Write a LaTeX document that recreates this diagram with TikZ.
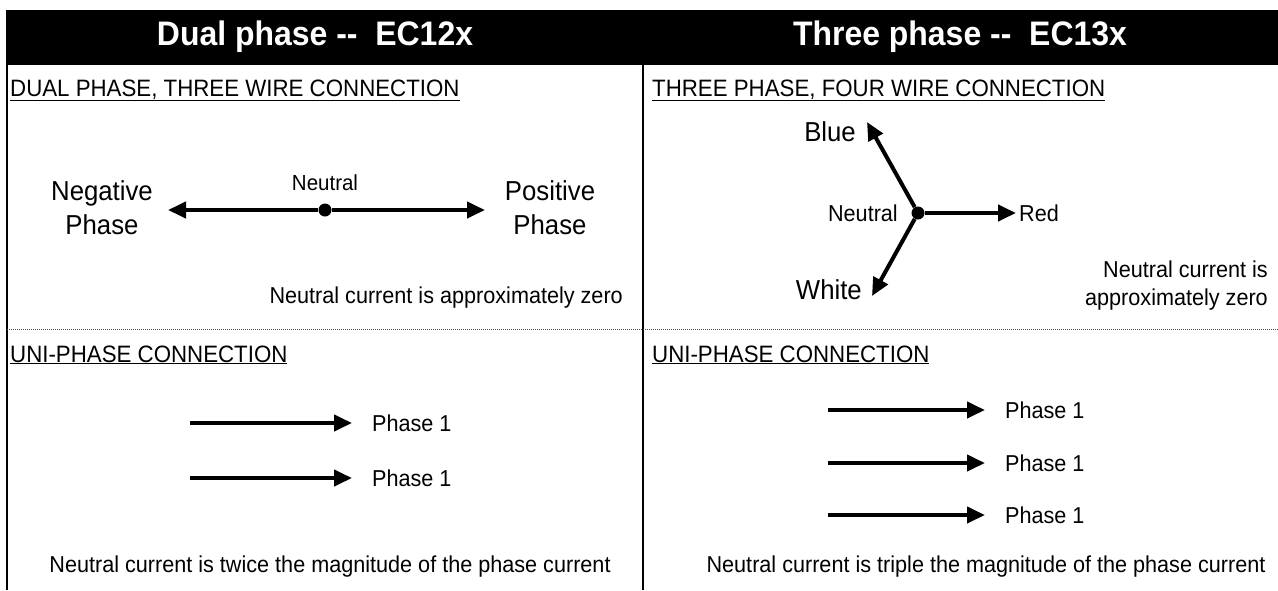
\documentclass[tikz,border=0pt]{standalone}
\usepackage{fontspec}
\setmainfont{Liberation Sans}[FakeStretch=0.94]
\usetikzlibrary{arrows.meta}
\usetikzlibrary{positioning}

\tikzset{
  phasearrow/.style={line width=4pt, -{Triangle[length=18pt,width=16pt]}},
  bodytext/.style={font=\fontsize{23}{28}\selectfont, inner sep=0pt},
  bigtext/.style={font=\fontsize{27.4}{34}\selectfont, inner sep=0pt},
  headtext/.style={font=\fontsize{23.7}{26}\selectfont, inner sep=0pt, anchor=base west},
  smalltext/.style={font=\fontsize{21.8}{24}\selectfont, inner sep=0pt},
  titletext/.style={font=\fontsize{34}{38}\selectfont\bfseries, text=white},
  neutraldot/.style={circle, fill, inner sep=0pt, minimum size=13pt},
}

\begin{document}
\begin{tikzpicture}[x=1pt,y=-1pt]
  \useasboundingbox (0,0) rectangle (1278,590);

  % title bar and frame
  \fill (7,10) rectangle (1278,65);
  \node [titletext] (dualtitle) at (315,37) {Dual phase {-}{-}\ \ EC12x};
  \node [titletext] (threetitle) at (960,37) {Three phase {-}{-}\ \ EC13x};
  \draw [line width=2.5pt] (7,10) -- (7,590);
  \draw [line width=2.5pt] (643,65) -- (643,590);
  \draw [black!70, line width=0.8pt, dash pattern=on 1.2pt off 0.8pt] (7,329) -- (1278,329);

  % dual phase, three wire
  \node [headtext] (dualhead) at (10,96) {\underline{DUAL PHASE, THREE WIRE CONNECTION}};
  \node [neutraldot] (dualn) at (325,210) {};
  \node [smalltext, above=12pt of dualn] (dualnlbl) {Neutral};
  \coordinate (negtip) at (168,210);
  \coordinate (postip) at (485,210);
  \draw [phasearrow] (dualn) -- (negtip);
  \draw [phasearrow] (dualn) -- (postip);
  \node [bigtext, align=center] (negphase) at (102,208) {Negative\\Phase};
  \node [bigtext, align=center] (posphase) at (550,208) {Positive\\Phase};
  \node [bodytext, anchor=east] (dualzero) at (623,298) {Neutral current is approximately zero};

  % three phase, four wire
  \node [headtext] (threehead) at (652,96) {\underline{THREE PHASE, FOUR WIRE CONNECTION}};
  \node [neutraldot] (star) at (918,213) {};
  \coordinate (bluetip) at (867,122);
  \coordinate (whitetip) at (872,296);
  \node [bodytext, anchor=west, inner xsep=3pt] (red) at (1016,213) {Red};
  \draw [phasearrow] (star) -- (bluetip);
  \draw [phasearrow] (star) -- (whitetip);
  \draw [phasearrow] (star) -- (red);
  \node [bigtext, anchor=east] (blue) at (856,132) {Blue};
  \node [bigtext, anchor=east] (white) at (862,290) {White};
  \node [bodytext, anchor=east] (starlbl) at (898,213) {Neutral};
  \node [bodytext, align=right, anchor=east] (threezero) at (1268,286) {Neutral current is\\approximately zero};

  % uni-phase, left
  \node [headtext] (unihead) at (10,362) {\underline{UNI-PHASE CONNECTION}};
  \coordinate (unia) at (190,423);
  \coordinate (unib) at (190,478);
  \node [bodytext, anchor=west, inner xsep=20pt] (phasea) at (352,423) {Phase 1};
  \node [bodytext, anchor=west, inner xsep=20pt] (phaseb) at (352,478) {Phase 1};
  \draw [phasearrow] (unia) -- (phasea);
  \draw [phasearrow] (unib) -- (phaseb);
  \node [bodytext] (twice) at (330,567) {Neutral current is twice the magnitude of the phase current};

  % uni-phase, right
  \node [headtext] (unihead2) at (652,362) {\underline{UNI-PHASE CONNECTION}};
  \foreach \y/\n in {410/c, 463/d, 515/e} {
    \coordinate (uni\n) at (828,\y);
    \node [bodytext, anchor=west, inner xsep=20pt] (phase\n) at (985,\y) {Phase 1};
    \draw [phasearrow] (uni\n) -- (phase\n);
  }
  \node [bodytext] (triple) at (986,567) {Neutral current is triple the magnitude of the phase current};
\end{tikzpicture}
\end{document}
